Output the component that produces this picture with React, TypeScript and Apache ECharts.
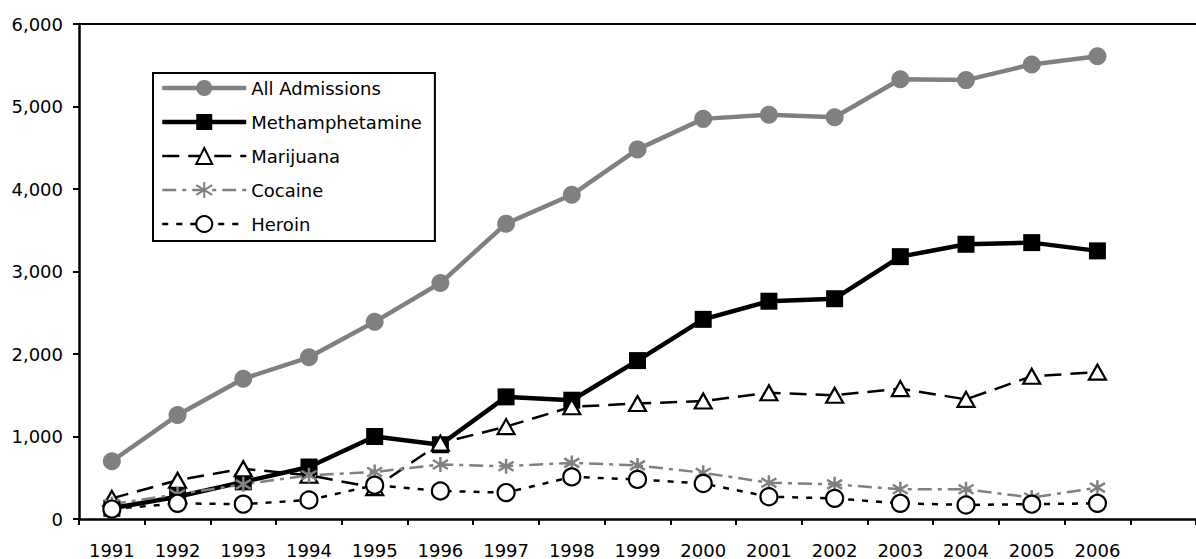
import React, { useEffect, useRef } from "react";
import * as echarts from "echarts";

const years = ["1991", "1992", "1993", "1994", "1995", "1996", "1997", "1998", "1999", "2000", "2001", "2002", "2003", "2004", "2005", "2006"];
const categories = [...years, ""];
const allAdmissions = [700, 1260, 1700, 1960, 2390, 2860, 3580, 3930, 4480, 4850, 4900, 4870, 5330, 5320, 5510, 5610];
const methamphetamine = [130, 270, 450, 630, 1000, 900, 1480, 1440, 1920, 2420, 2640, 2670, 3180, 3330, 3350, 3250];
const marijuana = [250, 470, 610, 530, 380, 920, 1120, 1360, 1400, 1430, 1530, 1500, 1580, 1450, 1730, 1780];
const cocaine = [180, 300, 420, 530, 570, 660, 640, 680, 650, 560, 440, 420, 360, 360, 260, 380];
const heroin = [120, 190, 180, 230, 410, 340, 320, 510, 480, 430, 270, 250, 190, 170, 180, 190];

const FONT = "DejaVu Sans";
const GRAY = "#808080";

export default function App() {
  const ref = useRef<HTMLDivElement>(null);
  useEffect(() => {
    if (!ref.current) return;
    const chart = echarts.init(ref.current, null, { renderer: "svg" });
    const asterisk = "path://M5,0L5,10M0,2L10,8M0,8L10,2";
    chart.setOption({
      animation: false,
      backgroundColor: "#fff",
      textStyle: { fontFamily: FONT },
      grid: { left: 79, top: 24, right: -9, bottom: 40 },
      legend: {
        orient: "vertical",
        left: 153,
        top: 73,
        itemWidth: 84,
        itemHeight: 20,
        itemGap: 16,
        padding: [6, 13, 8, 7],
        borderColor: "#000",
        borderWidth: 2,
        textStyle: { fontFamily: FONT, fontSize: 18, color: "#000" },
        data: [
          { name: "All Admissions", lineStyle: { width: 4.5 } },
          { name: "Methamphetamine", lineStyle: { width: 4.5 } },
          { name: "Marijuana", lineStyle: { width: 2.5 } },
          { name: "Cocaine", lineStyle: { width: 2.5 } },
          { name: "Heroin", lineStyle: { width: 2.5 } },
        ],
      },
      xAxis: [
        {
          type: "category",
          data: categories,
          boundaryGap: true,
          axisLine: { lineStyle: { color: "#000", width: 2.5 } },
          axisTick: { show: true, length: 6, inside: false, lineStyle: { color: "#000", width: 2 } },
          axisLabel: { interval: 0, margin: 22, fontFamily: FONT, fontSize: 18, color: "#000" },
          splitLine: { show: false },
        },
        {
          type: "category",
          data: categories,
          position: "top",
          axisLine: { lineStyle: { color: "#000", width: 2 } },
          axisTick: { show: false },
          axisLabel: { show: false },
          splitLine: { show: false },
        },
      ],
      yAxis: {
        type: "value",
        min: 0,
        max: 6000,
        interval: 1000,
        axisLine: { show: true, lineStyle: { color: "#000", width: 2.5 } },
        axisTick: { show: true, length: 6, lineStyle: { color: "#000", width: 2 } },
        axisLabel: {
          margin: 16,
          fontFamily: FONT,
          fontSize: 18,
          color: "#000",
          formatter: (v: number) => v.toLocaleString("en-US"),
        },
        splitLine: { show: false },
      },
      series: [
        {
          name: "All Admissions",
          type: "line",
          data: allAdmissions,
          symbol: "circle",
          symbolSize: 18,
          lineStyle: { color: GRAY, width: 4.5 },
          itemStyle: { color: GRAY, borderWidth: 0 },
          emphasis: { disabled: true },
        },
        {
          name: "Methamphetamine",
          type: "line",
          data: methamphetamine,
          symbol: "rect",
          symbolSize: 17,
          lineStyle: { color: "#000", width: 4.5 },
          itemStyle: { color: "#000", borderWidth: 0 },
          emphasis: { disabled: true },
        },
        {
          name: "Marijuana",
          type: "line",
          data: marijuana,
          symbol: "triangle",
          symbolSize: [17, 15],
          lineStyle: { color: "#000", width: 2.5, type: [17, 9] },
          itemStyle: { color: "#fff", borderColor: "#000", borderWidth: 2.2 },
          emphasis: { disabled: true },
        },
        {
          name: "Cocaine",
          type: "line",
          data: cocaine,
          symbol: asterisk,
          symbolSize: 15,
          lineStyle: { color: GRAY, width: 2.5, type: [14, 6, 4, 6] },
          itemStyle: { color: GRAY, borderColor: GRAY, borderWidth: 2.5 },
          emphasis: { disabled: true },
        },
        {
          name: "Heroin",
          type: "line",
          data: heroin,
          symbol: "circle",
          symbolSize: 17,
          lineStyle: { color: "#000", width: 2.5, type: [6, 8] },
          itemStyle: { color: "#fff", borderColor: "#000", borderWidth: 2.2 },
          emphasis: { disabled: true },
        },
      ],
    });
    return () => chart.dispose();
  }, []);
  return (
    <div
      ref={ref}
      style={{ position: "absolute", left: 0, top: 0, width: 1196, height: 559, background: "#fff" }}
    />
  );
}
